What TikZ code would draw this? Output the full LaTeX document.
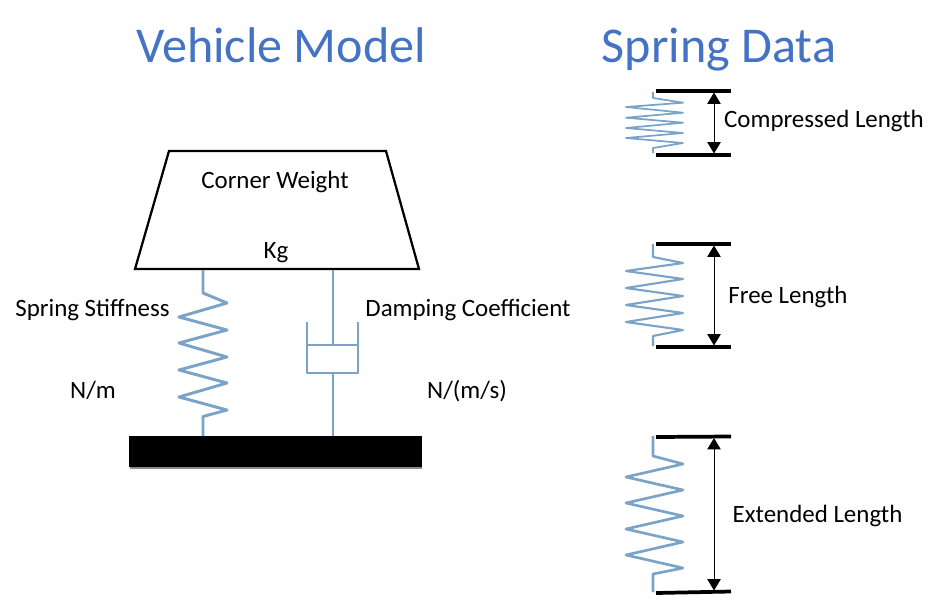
\documentclass[tikz,border=0pt]{standalone}
\usepackage{fontspec}
\setmainfont{Carlito}
\usetikzlibrary{arrows.meta}
\definecolor{titleblue}{HTML}{4472C4}
\definecolor{springblue}{HTML}{7BA3C8}
\tikzset{
  x=0.75pt,y=-0.75pt,
  title/.style={text=titleblue,font=\fontsize{37.6}{40}\selectfont,inner sep=0pt,anchor=base},
  label/.style={text=black,font=\fontsize{18.7}{20}\selectfont,inner sep=0pt,anchor=base},
  springline/.style={draw=springblue,line width=2.2pt,line join=round},
  plate/.style={draw=black,line width=2.8pt},
  body/.style={draw=black,line width=1.7pt,fill=white,line join=miter},
  dimline/.style={draw=black,line width=0.75pt,{Triangle[length=8.5pt,width=10pt]}-{Triangle[length=8.5pt,width=10pt]}}
}
\begin{document}
\begin{tikzpicture}
\useasboundingbox (0,0) rectangle (939,604);
% titles
\node[title] (t1) at (281,62) {Vehicle Model};
\node[title] (t2) at (719,62) {Spring Data};
% body
\coordinate (bodyA) at (169,151);
\coordinate (bodyB) at (386,151);
\coordinate (bodyC) at (419,269);
\coordinate (bodyD) at (135,269);
\draw[body] (bodyA) -- (bodyB) -- (bodyC) -- (bodyD) -- cycle;
\node[label] (cw) at (275,188) {Corner Weight};
\node[label] (kg) at (276,258) {Kg};
% ground
\fill[black!45] (130,440) rectangle (422,469);
\node[fill=black,minimum width=219.75pt,minimum height=23.25pt,inner sep=0pt,outer sep=0pt] (ground) at (275.5,451.5) {};
% main spring
\coordinate (s0) at (203,270);
\coordinate (s1) at (203,436);
\draw[springline] (s0) -- (203,293) -- (227,303) -- (179,317) -- (227,330) -- (179,343) -- (227,357) -- (179,370) -- (227,383) -- (179,397) -- (227,410) -- (203,416.5) -- (s1);
% damper
\coordinate (d0) at (333,270);
\coordinate (d1) at (333,345);
\coordinate (d2) at (333,373);
\coordinate (d3) at (333,436);
\draw[springline] (d0) -- (d1);
\draw[springline] (d2) -- (d3);
\draw[springline] (307,322) -- (307,373) -- (358,373) -- (358,322);
\draw[springline] (307,345) -- (358,345);
% model labels
\node[label] (ss) at (92.5,316) {Spring Stiffness};
\node[label] (dc) at (468,316) {Damping Coefficient};
\node[label] (nm) at (93,398) {N/m};
\node[label] (nms) at (467,398) {N/(m/s)};
% compressed
\coordinate (p1a) at (656,91); \coordinate (p1b) at (731,91);
\coordinate (p2a) at (656,155); \coordinate (p2b) at (731,155);
\draw[springline,line width=1.3pt] (653,92) -- (653,98) -- (683,102.7) -- (626,107) -- (683,112.7) -- (626,117.7) -- (683,122.7) -- (626,128) -- (683,133) -- (626,138) -- (683,143) -- (653,148) -- (653,153);
\draw[plate] (p1a) -- (p1b);
\draw[plate] (p2a) -- (p2b);
\coordinate (a1) at (714,92.5); \coordinate (a2) at (714,153.5);
\draw[dimline] (a1) -- (a2);
\node[label] (cl) at (824,127) {Compressed Length};
% free
\coordinate (p3a) at (656,244); \coordinate (p3b) at (731,244);
\coordinate (p4a) at (656,347); \coordinate (p4b) at (731,347);
\draw[springline,line width=1.6pt] (653,244) -- (653,257) -- (683,263) -- (626,271) -- (683,279) -- (626,288) -- (683,296) -- (626,305) -- (683,313) -- (626,322) -- (683,330) -- (653,336) -- (653,346);
\draw[plate] (p3a) -- (p3b);
\draw[plate] (p4a) -- (p4b);
\coordinate (a3) at (714,245.5); \coordinate (a4) at (714,345.5);
\draw[dimline] (a3) -- (a4);
\node[label] (fl) at (788,303) {Free Length};
% extended
\coordinate (p5a) at (656,437); \coordinate (p5b) at (731,436.5);
\coordinate (p6a) at (656,593); \coordinate (p6b) at (731,591.5);
\draw[springline,line width=2pt] (653,436) -- (653,456) -- (683,464) -- (626,477) -- (683,490) -- (626,503) -- (683,516) -- (626,529) -- (683,542) -- (626,555) -- (683,568) -- (653,574) -- (653,592);
\draw[plate] (p5a) -- (p5b);
\draw[plate] (p6a) -- (p6b);
\coordinate (a5) at (714,438); \coordinate (a6) at (714,590.5);
\draw[dimline] (a5) -- (a6);
\node[label] (el) at (817.5,522) {Extended Length};
\end{tikzpicture}
\end{document}
